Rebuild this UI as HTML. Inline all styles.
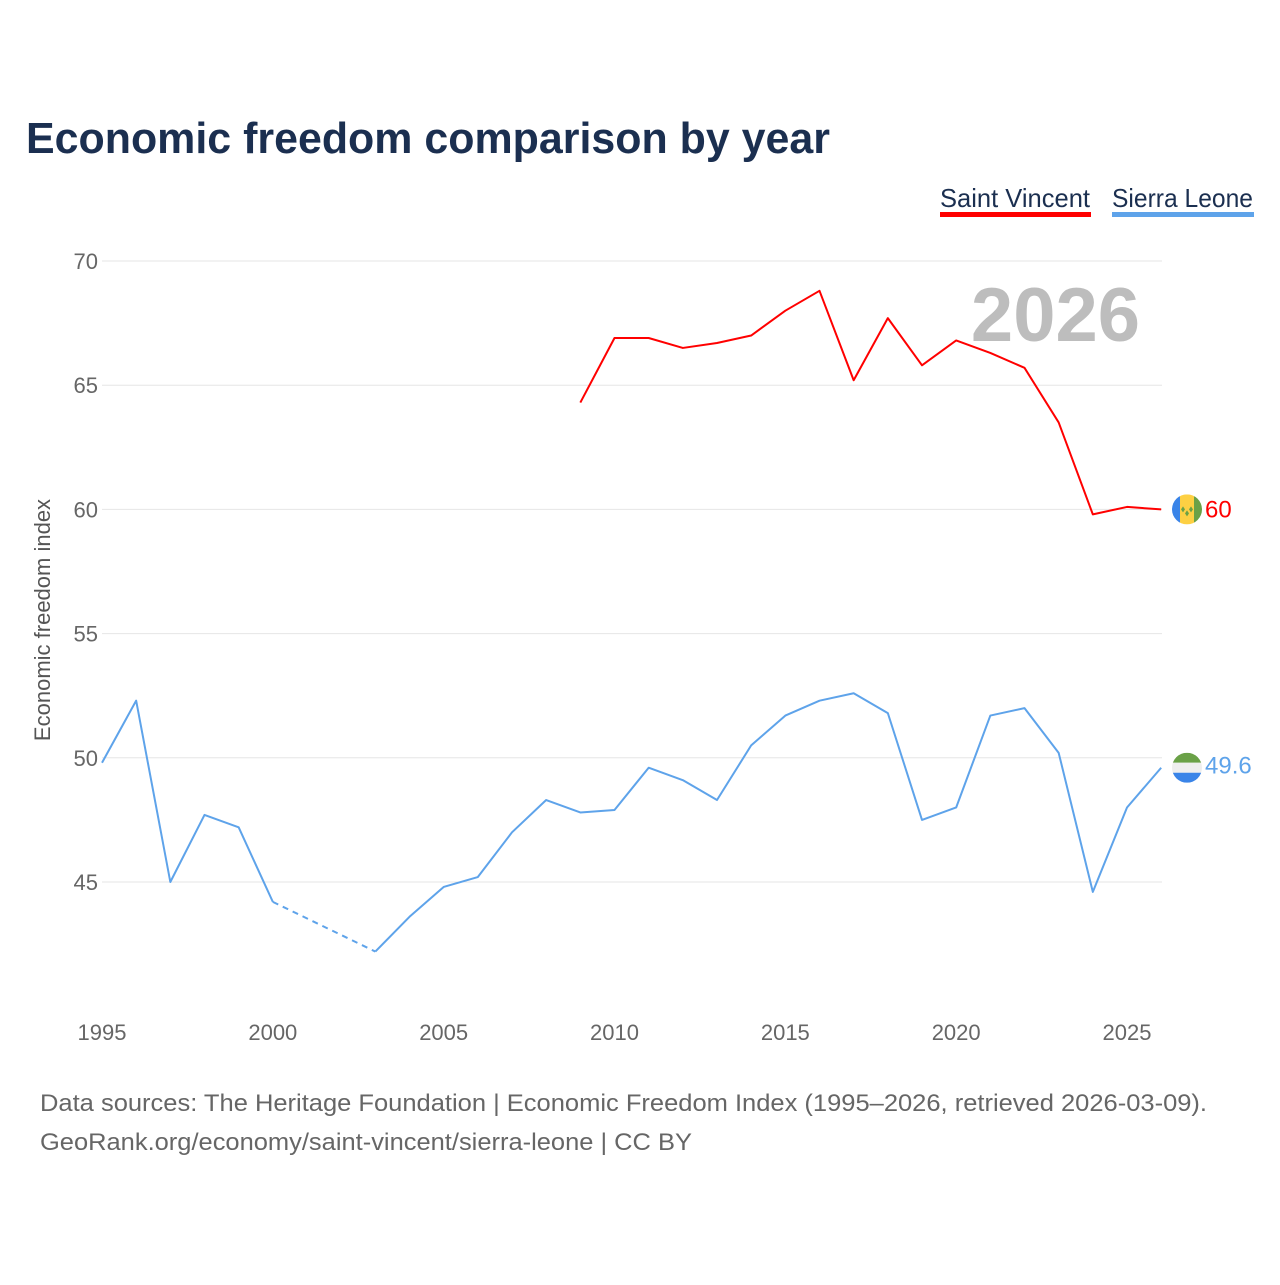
<!DOCTYPE html>
<html><head><meta charset="utf-8">
<style>
body{margin:0;background:#fff;width:1280px;height:1280px;overflow:hidden;font-family:"Liberation Sans",sans-serif;}
svg text{font-family:"Liberation Sans",sans-serif;}
</style></head>
<body>
<svg id="chart" width="1280" height="1280" xmlns="http://www.w3.org/2000/svg">
<text x="26" y="153" font-size="44" font-weight="bold" fill="#1b2f50" textLength="804" lengthAdjust="spacingAndGlyphs">Economic freedom comparison by year</text>
<g>
<g>
<text x="940" y="207" font-size="26" fill="#1b2f50" textLength="150" lengthAdjust="spacingAndGlyphs">Saint Vincent</text>
<rect x="940" y="212" width="151" height="5" fill="#ff0000"/></g>
<g>
<text x="1112" y="207" font-size="26" fill="#1b2f50" textLength="141" lengthAdjust="spacingAndGlyphs">Sierra Leone</text>
<rect x="1112" y="212" width="142" height="5" fill="#5ea3ea"/></g>
</g>
<text x="1140" y="341" font-size="76" font-weight="bold" fill="#bdbdbd" text-anchor="end">2026</text>
<text transform="translate(50,620) rotate(-90)" font-size="22" fill="#555" text-anchor="middle">Economic freedom index</text>
<g id="grid"></g>
<g id="xt"></g>
<g id="series"></g>
<text x="40" y="1111" font-size="24" fill="#666" textLength="1167" lengthAdjust="spacingAndGlyphs">Data sources: The Heritage Foundation | Economic Freedom Index (1995–2026, retrieved 2026-03-09).</text>
<text x="40" y="1150" font-size="24" fill="#666" textLength="652" lengthAdjust="spacingAndGlyphs">GeoRank.org/economy/saint-vincent/sierra-leone | CC BY</text>
</svg>
<script>
const yTicks=[45,50,55,60,65,70];
const xTicks=[1995,2000,2005,2010,2015,2020,2025];
const slYears=[1995,1996,1997,1998,1999,2000,2003,2004,2005,2006,2007,2008,2009,2010,2011,2012,2013,2014,2015,2016,2017,2018,2019,2020,2021,2022,2023,2024,2025,2026];
const slValues=[49.8,52.3,45.0,47.7,47.2,44.2,42.2,43.6,44.8,45.2,47.0,48.3,47.8,47.9,49.6,49.1,48.3,50.5,51.7,52.3,52.6,51.8,47.5,48.0,51.7,52.0,50.2,44.6,48.0,49.6];
const svYears=[2009,2010,2011,2012,2013,2014,2015,2016,2017,2018,2019,2020,2021,2022,2023,2024,2025,2026];
const svValues=[64.3,66.9,66.9,66.5,66.7,67.0,68.0,68.8,65.2,67.7,65.8,66.8,66.3,65.7,63.5,59.8,60.1,60.0];
const NS='http://www.w3.org/2000/svg';
function x(yr){return 102+(yr-1995)*(1025/30);}
function y(v){return 882-(v-45)*(621/25);}
function mk(tag,attrs,parent){const e=document.createElementNS(NS,tag);for(const k in attrs)e.setAttribute(k,attrs[k]);parent.appendChild(e);return e;}
const grid=document.getElementById('grid');
yTicks.forEach(t=>{
 const l=mk('line',{x1:102,x2:1162,y1:y(t),y2:y(t),stroke:'#e6e6e6','stroke-width':1},grid);
 
 
 const tx=mk('text',{x:98,y:y(t)+8,'font-size':22,fill:'#666','text-anchor':'end'},grid);
 tx.textContent=t;
 
 
});
const xt=document.getElementById('xt');
xTicks.forEach(t=>{
 const tx=mk('text',{x:x(t),y:1040,'font-size':22,fill:'#666','text-anchor':'middle'},xt);
 tx.textContent=t;
 
 
});
const g=document.getElementById('series');
function drawSeries(years,vals,color,name){
 let segs=[[0]];
 for(let i=1;i<years.length;i++){
  if(years[i]-years[i-1]>1){
   const d=mk('line',{x1:x(years[i-1]),y1:y(vals[i-1]),x2:x(years[i]),y2:y(vals[i]),stroke:color,'stroke-width':2,'stroke-dasharray':'6,5'},g);
   
   
   segs.push([i]);
  } else segs[segs.length-1].push(i);
 }
 segs.forEach(s=>{
  const p=mk('polyline',{points:s.map(i=>x(years[i])+','+y(vals[i])).join(' '),fill:'none',stroke:color,'stroke-width':2,'stroke-linejoin':'round'},g);
  
  
 });
}
drawSeries(svYears,svValues,'#ff0000','saint-vincent');
drawSeries(slYears,slValues,'#5ea3ea','sierra-leone');
const svLast=svValues[svValues.length-1], slLast=slValues[slValues.length-1];
const cx=1187;
let cy=y(svLast);
const defs=mk('defs',{},g);
const c1=mk('clipPath',{id:'c1'},defs);mk('circle',{cx:cx,cy:cy,r:15},c1);
const f1=mk('g',{'clip-path':'url(#c1)'},g);


mk('rect',{x:cx-15,y:cy-15,width:8,height:30,fill:'#3a84e8'},f1);
mk('rect',{x:cx-7,y:cy-15,width:14,height:30,fill:'#fdd043'},f1);
mk('rect',{x:cx+7,y:cy-15,width:8,height:30,fill:'#6aa147'},f1);
mk('path',{d:`M${cx-4},${cy-3}l2,3l-2,3l-2,-3zM${cx+4},${cy-3}l2,3l-2,3l-2,-3zM${cx},${cy+1}l2,3l-2,3l-2,-3z`,fill:'#6aa147'},f1);
const t1=mk('text',{x:1205,y:cy+8,'font-size':24,fill:'#ff0000'},g);t1.textContent=svLast;


cy=y(slLast);
const c2=mk('clipPath',{id:'c2'},defs);mk('circle',{cx:cx,cy:cy,r:15},c2);
const f2=mk('g',{'clip-path':'url(#c2)'},g);


mk('rect',{x:cx-15,y:cy-15,width:30,height:10,fill:'#6aa147'},f2);
mk('rect',{x:cx-15,y:cy-5,width:30,height:10,fill:'#eeeeee'},f2);
mk('rect',{x:cx-15,y:cy+5,width:30,height:10,fill:'#3a84e8'},f2);
const t2=mk('text',{x:1205,y:cy+6,'font-size':24,fill:'#5ea3ea'},g);t2.textContent=slLast;


</script>
</body></html>
